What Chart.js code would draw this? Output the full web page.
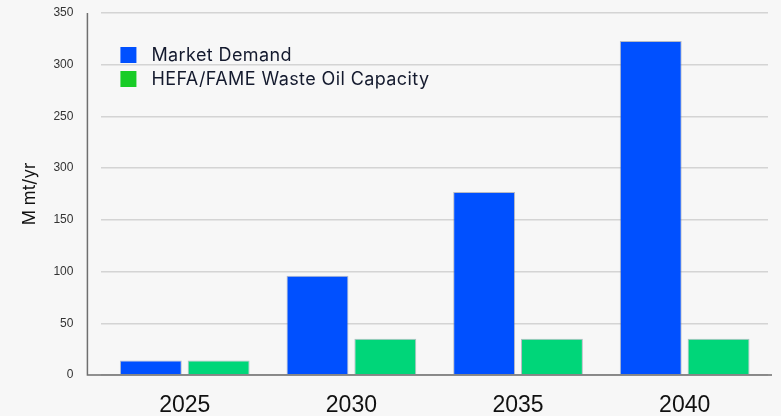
<!DOCTYPE html>
<html>
<head>
<meta charset="utf-8">
<script src="https://cdn.jsdelivr.net/npm/chart.js@4"></script>
<style>
  html, body { margin: 0; padding: 0; background: #f7f7f7; }
  #wrap { width: 781px; height: 416px; position: relative; }
</style>
</head>
<body>
<div id="wrap"><canvas id="barChart"></canvas></div>
<script>
  // data
  const years = ['2025', '2030', '2035', '2040'];
  const marketDemand = [14, 96, 177, 323];
  const wasteOilCapacity = [14, 35, 35, 35];
  // y tick labels as printed (the 200 line is labelled 300 in the source)
  const yTickLabels = ['0', '50', '100', '150', '300', '250', '300', '350'];

  const legendColors = ['#0050ff', '#18cc26'];

  // axis lines sit a little left of the plot, legend sits inside it
  const decorPlugin = {
      id: 'decor',
      afterDraw(chart) {
          const ctx = chart.ctx;
          const area = chart.chartArea;
          ctx.save();
          ctx.strokeStyle = '#6f6f6f';
          ctx.lineWidth = 1.5;
          ctx.beginPath();
          ctx.moveTo(area.left - 14, area.top);
          ctx.lineTo(area.left - 14, area.bottom);
          ctx.lineTo(area.right + 4, area.bottom);
          ctx.stroke();

          ctx.font = '18px Inter';
          ctx.letterSpacing = '0.4px';
          ctx.textBaseline = 'middle';
          chart.data.datasets.forEach((ds, i) => {
              const x = area.left + 19;
              const y = area.top + 34 + i * 24;
              ctx.fillStyle = legendColors[i];
              ctx.fillRect(x, y, 16, 16);
              ctx.fillStyle = '#141a2e';
              ctx.fillText(ds.label, x + 31, y + 8.5);
          });
          ctx.restore();
      }
  };

  const ctx = document.getElementById('barChart').getContext('2d');
  const barChart = new Chart(ctx, {
      type: 'bar',
      data: {
          labels: years,
          datasets: [{
              label: 'Market Demand',
              data: marketDemand,
              backgroundColor: '#0050ff',
              borderColor: 'rgba(120, 125, 145, 0.5)',
              borderWidth: 1,
              borderSkipped: 'bottom'
          }, {
              label: 'HEFA/FAME Waste Oil Capacity',
              data: wasteOilCapacity,
              backgroundColor: '#00d679',
              borderColor: 'rgba(120, 125, 145, 0.5)',
              borderWidth: 1,
              borderSkipped: 'bottom'
          }]
      },
      options: {
          responsive: true,
          maintainAspectRatio: false,
          animation: false,
          categoryPercentage: 0.814,
          barPercentage: 0.912,
          layout: {
              padding: { top: 13, right: 13, bottom: -4, left: 20 }
          },
          plugins: {
              legend: { display: false },
              tooltip: { enabled: false }
          },
          scales: {
              x: {
                  grid: {
                      display: true,
                      drawOnChartArea: false,
                      drawTicks: true,
                      tickLength: 16,
                      tickColor: 'rgba(0,0,0,0)'
                  },
                  border: { display: false },
                  ticks: {
                      color: '#111',
                      padding: 3,
                      font: { family: 'Liberation Sans', size: 23, lineHeight: 1 }
                  }
              },
              y: {
                  min: 0,
                  max: 350,
                  grid: {
                      color: '#d4d4d4',
                      lineWidth: 1.5,
                      drawTicks: true,
                      tickLength: 25,
                      tickColor: 'rgba(0,0,0,0)'
                  },
                  border: { display: false },
                  ticks: {
                      stepSize: 50,
                      color: '#333',
                      padding: 3,
                      font: { family: 'Liberation Sans', size: 12 },
                      callback: (value, index) => yTickLabels[index]
                  },
                  title: {
                      display: true,
                      text: 'M mt/yr',
                      color: '#111',
                      padding: { top: 0, bottom: 10 },
                      font: { family: 'Inter', size: 17 }
                  }
              }
          }
      },
      plugins: [decorPlugin]
  });
</script>
</body>
</html>
